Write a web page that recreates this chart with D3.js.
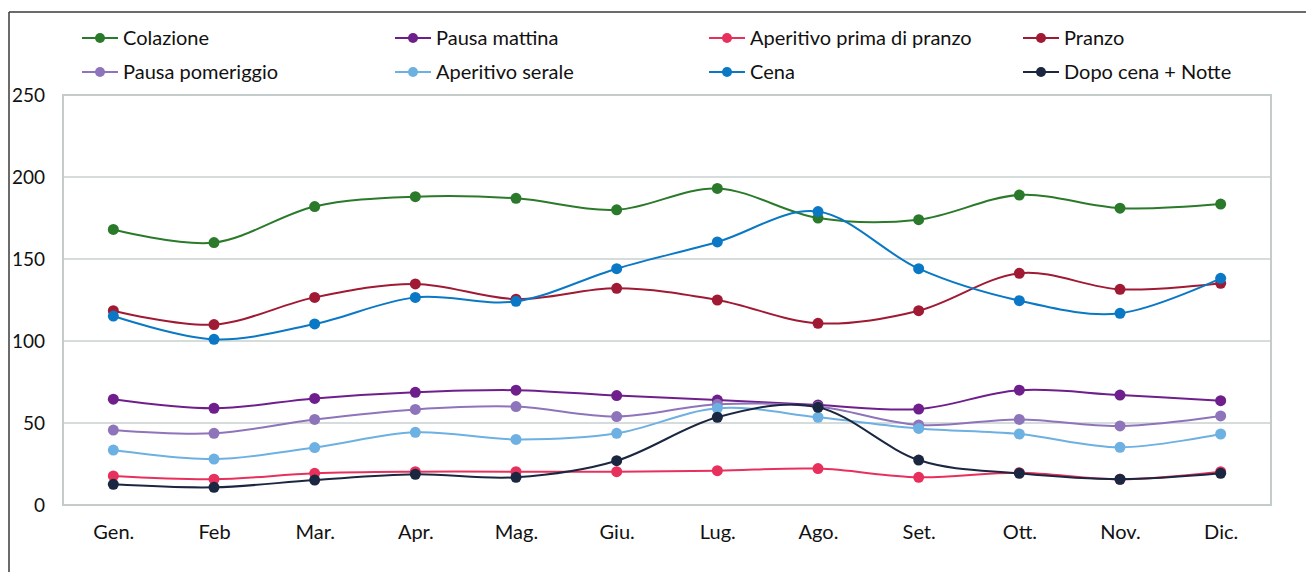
<!DOCTYPE html>
<html>
<head>
<meta charset="utf-8">
<script src="https://cdn.jsdelivr.net/npm/d3@7"></script>
<style>
  html, body { margin: 0; padding: 0; background: #fff; }
  svg { display: block; font-family: Lato, "Open Sans", sans-serif; }
</style>
</head>
<body>
<svg id="chart" width="1306" height="572"></svg>
<script>
// Months on the horizontal axis
const months = ["Gen.", "Feb", "Mar.", "Apr.", "Mag.", "Giu.", "Lug.", "Ago.", "Set.", "Ott.", "Nov.", "Dic."];
const yTicks = [0, 50, 100, 150, 200, 250];

// Series values, one per month
const colazione        = [168, 160, 182, 188, 187, 180, 193, 175, 174, 189, 181, 183.5];
const pausaMattina     = [64.5, 59, 65, 68.7, 70, 66.7, 64, 61, 58.5, 70, 67, 63.6];
const aperitivoPranzo  = [17.7, 15.7, 19.3, 20.3, 20.3, 20.3, 20.9, 22.2, 16.9, 19.7, 15.7, 20.3];
const pranzo           = [118.5, 110, 126.6, 134.8, 125.5, 132.1, 125, 110.8, 118.5, 141.3, 131.5, 135.2];
const pausaPomeriggio  = [45.7, 43.7, 52.2, 58.3, 60, 53.9, 61.4, 60, 48.8, 52.2, 48.2, 54.3];
const aperitivoSerale  = [33.5, 28, 35, 44.3, 40, 43.7, 59, 53.5, 46.7, 43.3, 35.2, 43.3];
const cena             = [115.2, 101, 110.4, 126.6, 124.2, 144.1, 160.4, 178.9, 144.1, 124.6, 116.9, 138.2];
const dopoCena         = [12.6, 10.8, 15.2, 18.7, 16.9, 27, 53.5, 59.6, 27.4, 19.3, 15.7, 19.3];

const seriesNames  = ["Colazione", "Pausa mattina", "Aperitivo prima di pranzo", "Pranzo",
                      "Pausa pomeriggio", "Aperitivo serale", "Cena", "Dopo cena + Notte"];
const seriesValues = [colazione, pausaMattina, aperitivoPranzo, pranzo,
                      pausaPomeriggio, aperitivoSerale, cena, dopoCena];
const seriesColors = ["#2b7a2b", "#6e1f8c", "#e8305c", "#a01a33",
                      "#8e74ba", "#6db0e2", "#0a78c4", "#1b2741"];

const svg = d3.select("#chart");

// Outer frame (top and left edges)
svg.append("line").attr("x1", 9).attr("x2", 1306).attr("y1", 12).attr("y2", 12)
  .attr("stroke", "#3a3a3a").attr("stroke-width", 1.5);
svg.append("line").attr("x1", 9).attr("x2", 9).attr("y1", 12).attr("y2", 572)
  .attr("stroke", "#3a3a3a").attr("stroke-width", 1.5);

const plot = { left: 63, right: 1271, top: 95, bottom: 505 };

const x = d3.scalePoint().domain(months).range([plot.left, plot.right]).padding(0.5);
const y = d3.scaleLinear().domain([0, 250]).range([plot.bottom, plot.top]);

// Horizontal gridlines
svg.append("g").selectAll("line").data(yTicks.filter(t => t > 0 && t < 250)).join("line")
  .attr("x1", plot.left).attr("x2", plot.right)
  .attr("y1", d => y(d)).attr("y2", d => y(d))
  .attr("stroke", "#c9cfcf").attr("stroke-width", 1.5);

// Plot area border
svg.append("rect")
  .attr("x", plot.left).attr("y", plot.top)
  .attr("width", plot.right - plot.left).attr("height", plot.bottom - plot.top)
  .attr("fill", "none").attr("stroke", "#c3cccb").attr("stroke-width", 2);

// Y axis labels
const yAxis = d3.axisLeft(y).tickValues(yTicks).tickSize(0).tickPadding(18);
const gy = svg.append("g").attr("transform", `translate(${plot.left},0)`).call(yAxis);
gy.select(".domain").remove();
gy.selectAll("text").attr("font-size", 19).attr("fill", "#111")
  .style("font-family", "Lato, 'Open Sans', sans-serif");

// X axis labels
const xAxis = d3.axisBottom(x).tickSize(0).tickPadding(20);
const gx = svg.append("g").attr("transform", `translate(0,${plot.bottom})`).call(xAxis);
gx.select(".domain").remove();
gx.selectAll("text").attr("font-size", 20).attr("fill", "#111")
  .style("font-family", "Lato, 'Open Sans', sans-serif");

// Smoothed lines with markers
const line = d3.line()
  .x((d, i) => x(months[i]))
  .y(d => y(d))
  .curve(d3.curveCardinal.tension(0));

seriesValues.forEach((vals, si) => {
  const g = svg.append("g");
  g.append("path").datum(vals)
    .attr("d", line)
    .attr("fill", "none")
    .attr("stroke", seriesColors[si])
    .attr("stroke-width", 2);
  g.selectAll("circle").data(vals).join("circle")
    .attr("cx", (d, i) => x(months[i]))
    .attr("cy", d => y(d))
    .attr("r", 5.5)
    .attr("fill", seriesColors[si]);
});

// Legend: two rows of four entries
const legendCols = [82, 395, 709, 1023];
const legendRows = [38, 72];
seriesNames.forEach((name, i) => {
  const col = i % 4, row = Math.floor(i / 4);
  const lx = legendCols[col], ly = legendRows[row];
  const g = svg.append("g").attr("transform", `translate(${lx},${ly})`);
  g.append("line").attr("x1", 0).attr("x2", 36).attr("y1", 0).attr("y2", 0)
    .attr("stroke", seriesColors[i]).attr("stroke-width", 2);
  g.append("circle").attr("cx", 18).attr("cy", 0).attr("r", 5).attr("fill", seriesColors[i]);
  g.append("text").attr("x", 41).attr("y", 0).attr("dy", "0.35em")
    .attr("font-size", 20).attr("fill", "#111").text(name);
});
</script>
</body>
</html>
